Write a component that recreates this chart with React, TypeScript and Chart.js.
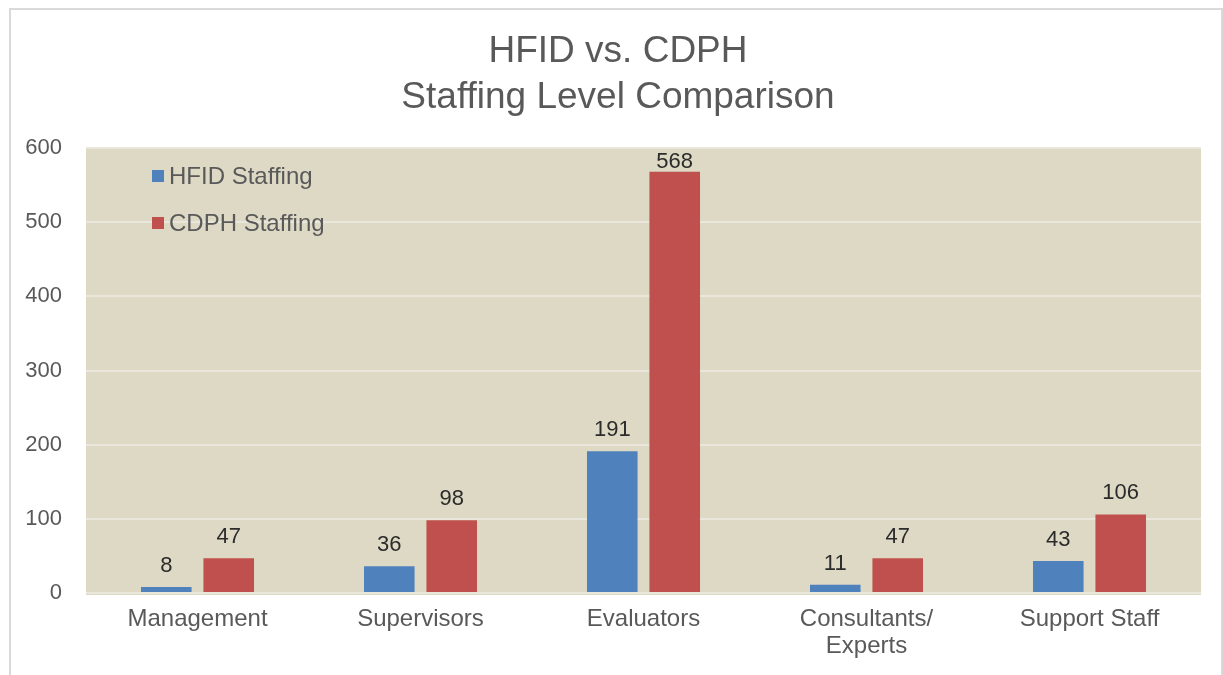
import React, { useEffect, useRef } from "react";
import { Chart, registerables } from "chart.js";

Chart.register(...registerables);

const categories: (string | string[])[] = [
  "Management",
  "Supervisors",
  "Evaluators",
  ["Consultants/", "Experts"],
  "Support Staff",
];
const hfidStaffing = [8, 36, 191, 11, 43];
const cdphStaffing = [47, 98, 568, 47, 106];
const seriesNames = ["HFID Staffing", "CDPH Staffing"];
const titleLines = ["HFID vs. CDPH", "Staffing Level Comparison"];
const yTicks = [0, 100, 200, 300, 400, 500, 600];

const FONT = "'Liberation Sans', Arial, sans-serif";
const TEXT = "#595959";

const plotBg = {
  id: "plotBg",
  beforeDraw(chart: any) {
    const { ctx, chartArea } = chart;
    ctx.save();
    ctx.fillStyle = "#DDD9C4";
    ctx.fillRect(chartArea.left, chartArea.top, chartArea.right - chartArea.left, chartArea.bottom - chartArea.top + 2);
    ctx.restore();
  },
};

const chartTitle = {
  id: "chartTitle",
  afterDraw(chart: any) {
    const { ctx } = chart;
    ctx.save();
    ctx.font = `37px ${FONT}`;
    ctx.fillStyle = TEXT;
    ctx.textAlign = "center";
    ctx.textBaseline = "middle";
    titleLines.forEach((line, i) => {
      ctx.fillText(line, 607, 42 + i * 46);
    });
    ctx.restore();
  },
};

const dataLabels = {
  id: "dataLabels",
  afterDatasetsDraw(chart: any) {
    const { ctx, chartArea } = chart;
    ctx.save();
    ctx.font = `22px ${FONT}`;
    ctx.fillStyle = "#2b2b2b";
    ctx.textAlign = "center";
    ctx.textBaseline = "bottom";
    chart.data.datasets.forEach((ds: any, i: number) => {
      const meta = chart.getDatasetMeta(i);
      meta.data.forEach((bar: any, j: number) => {
        const y = Math.max(bar.y - 10, chartArea.top + 25);
        ctx.fillText(String(ds.data[j]), bar.x, y);
      });
    });
    ctx.restore();
  },
};

const innerLegend = {
  id: "innerLegend",
  afterDraw(chart: any) {
    const { ctx, chartArea } = chart;
    ctx.save();
    ctx.font = `24px ${FONT}`;
    ctx.textBaseline = "middle";
    ctx.textAlign = "left";
    chart.data.datasets.forEach((ds: any, i: number) => {
      const cy = chartArea.top + 28 + i * 47;
      const x = chartArea.left + 66;
      ctx.fillStyle = ds.backgroundColor;
      ctx.fillRect(x, cy - 6, 12, 12);
      ctx.fillStyle = TEXT;
      ctx.fillText(ds.label, x + 17, cy + 1);
    });
    ctx.restore();
  },
};

export default function App() {
  const ref = useRef<HTMLCanvasElement>(null);
  useEffect(() => {
    if (!ref.current) return;
    const chart = new Chart(ref.current, {
      type: "bar",
      data: {
        labels: categories,
        datasets: [
          {
            label: seriesNames[0],
            data: hfidStaffing,
            backgroundColor: "#4F81BD",
            categoryPercentage: 0.56,
            barPercentage: 0.81,
          },
          {
            label: seriesNames[1],
            data: cdphStaffing,
            backgroundColor: "#C0504D",
            categoryPercentage: 0.56,
            barPercentage: 0.81,
          },
        ],
      },
      options: {
        animation: false,
        responsive: false,
        maintainAspectRatio: false,
        layout: { padding: { top: 138, right: 20, bottom: 0, left: 0 } },
        plugins: {
          legend: { display: false },
          tooltip: { enabled: false },
          title: { display: false },
        },
        scales: {
          x: {
            grid: { display: false, drawTicks: false },
            border: { display: false },
            ticks: {
              color: TEXT,
              font: { family: FONT, size: 24, lineHeight: 1.12 },
              padding: 13,
              maxRotation: 0,
              autoSkip: false,
            },
            afterFit(scale: any) {
              scale.height = 97;
            },
          },
          y: {
            min: 0,
            max: 600,
            afterBuildTicks(scale: any) {
              scale.ticks = yTicks.map((v) => ({ value: v }));
            },
            grid: { color: "#E9E7DC", lineWidth: 2, drawTicks: false },
            border: { display: false },
            ticks: {
              color: TEXT,
              font: { family: FONT, size: 22 },
              padding: 24,
            },
            afterFit(scale: any) {
              scale.width = 75;
            },
          },
        },
      },
      plugins: [plotBg, dataLabels, innerLegend, chartTitle],
    } as any);
    return () => chart.destroy();
  }, []);
  return (
    <div
      style={{
        position: "fixed",
        left: 9,
        top: 8,
        border: "2px solid #D9D9D9",
        width: 1210,
        height: 680,
        background: "#fff",
      }}
    >
      <canvas ref={ref} width={1210} height={680} style={{ display: "block" }} />
    </div>
  );
}
